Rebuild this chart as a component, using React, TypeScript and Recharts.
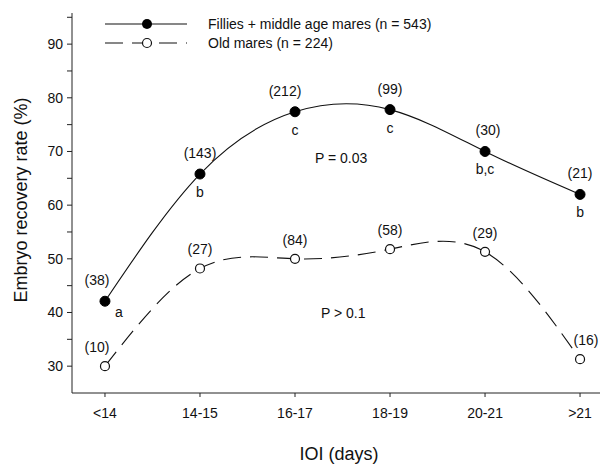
import React from 'react';
import { LineChart, Line, XAxis, YAxis, LabelList } from 'recharts';

// IOI classes and recovery rates
const categories = ['<14', '14-15', '16-17', '18-19', '20-21', '>21'];
const filliesRate = [42.1, 65.8, 77.4, 77.8, 70.0, 62.0];
const oldMaresRate = [30.0, 48.2, 50.0, 51.8, 51.3, 31.3];
const filliesN = [38, 143, 212, 99, 30, 21];
const oldMaresN = [10, 27, 84, 58, 29, 16];
const filliesLetters = ['a', 'b', 'c', 'c', 'b,c', 'b'];
const yTicks = [30, 35, 40, 45, 50, 55, 60, 65, 70, 75, 80, 85, 90, 95];
const xTicks = [0, 1, 2, 3, 4, 5];

// small horizontal nudges of the "(n)" labels, as in the original
const filliesNudge = [-8, 0, -10, 0, 3, 0];
const oldNudge = [-8, 0, 0, 0, 0, 6];

const FONT = '"Liberation Sans", Arial, Helvetica, sans-serif';

const data = categories.map((cat, i) => ({
  x: i,
  cat,
  fillies: filliesRate[i],
  old: oldMaresRate[i],
}));

const filliesLabel = (props: any) => {
  const { x, y, index } = props;
  const first = index === 0;
  return (
    <g fontFamily={FONT} fontSize={14} fill="#111">
      <text x={x + filliesNudge[index]} y={y - 21} textAnchor="middle" dominantBaseline="central">
        ({filliesN[index]})
      </text>
      <text
        x={first ? x + 10 : x}
        y={first ? y + 11 : y + 18}
        textAnchor={first ? 'start' : 'middle'}
        dominantBaseline="central"
      >
        {filliesLetters[index]}
      </text>
    </g>
  );
};

const oldLabel = (props: any) => {
  const { x, y, index } = props;
  return (
    <text
      x={x + oldNudge[index]}
      y={y - 19}
      textAnchor="middle"
      dominantBaseline="central"
      fontFamily={FONT}
      fontSize={14}
      fill="#111"
    >
      ({oldMaresN[index]})
    </text>
  );
};

export default function App() {
  return (
    <div style={{ width: 600, height: 466, background: '#fff' }}>
      <style>{'body{margin:0;}'}</style>
      <LineChart
        width={600}
        height={466}
        data={data}
        margin={{ top: 13, right: 0, bottom: 0, left: 0 }}
        style={{ fontFamily: FONT }}
      >
        <XAxis
          dataKey="x"
          type="number"
          domain={[-0.347, 5.21]}
          allowDataOverflow
          ticks={xTicks}
          tickFormatter={(v: number) => categories[v] ?? ''}
          height={73}
          stroke="#222"
          tickSize={4}
          tickMargin={11}
          tick={{ fontSize: 14, fill: '#111', fontFamily: FONT }}
        />
        <YAxis
          type="number"
          domain={[25, 95.8]}
          allowDataOverflow
          ticks={yTicks}
          tickFormatter={(v: number) => (v % 10 === 0 ? String(v) : '')}
          width={72}
          stroke="#222"
          tickSize={5}
          tickMargin={4}
          tick={{ fontSize: 14, fill: '#111', fontFamily: FONT }}
        />
        <Line
          type="natural"
          dataKey="old"
          stroke="#111"
          strokeWidth={1.1}
          strokeDasharray="18 9"
          dot={{ r: 4.5, fill: '#fff', stroke: '#111', strokeWidth: 1.2, strokeDasharray: '' }}
          isAnimationActive={false}
        >
          <LabelList dataKey="old" content={oldLabel} />
        </Line>
        <Line
          type="natural"
          dataKey="fillies"
          stroke="#111"
          strokeWidth={1.1}
          dot={{ r: 5, fill: '#000', stroke: '#000', strokeWidth: 1 }}
          isAnimationActive={false}
        >
          <LabelList dataKey="fillies" content={filliesLabel} />
        </Line>

        {/* legend */}
        <g fontFamily={FONT} fontSize={14} fill="#111">
          <line x1={105} x2={187} y1={24} y2={24} stroke="#111" strokeWidth={1.2} />
          <circle cx={147} cy={24} r={5} fill="#000" />
          <text x={208} y={24} dominantBaseline="central">Fillies + middle age mares (n = 543)</text>
          <line x1={105} x2={187} y1={43} y2={43} stroke="#111" strokeWidth={1.2} strokeDasharray="18 9" />
          <circle cx={147} cy={43} r={4.5} fill="#fff" stroke="#111" strokeWidth={1.2} />
          <text x={208} y={43} dominantBaseline="central">Old mares (n = 224)</text>
        </g>

        {/* significance notes */}
        <text x={315} y={158} fontFamily={FONT} fontSize={14} fill="#111" dominantBaseline="central">
          P = 0.03
        </text>
        <text x={321} y={313} fontFamily={FONT} fontSize={14} fill="#111" dominantBaseline="central">
          P &gt; 0.1
        </text>

        {/* axis titles */}
        <text x={339} y={454} fontFamily={FONT} fontSize={18} fill="#111" textAnchor="middle" dominantBaseline="central">
          IOI (days)
        </text>
        <text
          x={21}
          y={200}
          transform="rotate(-90 21 200)"
          fontFamily={FONT}
          fontSize={18}
          fill="#111"
          textAnchor="middle"
          dominantBaseline="central"
        >
          Embryo recovery rate (%)
        </text>
      </LineChart>
    </div>
  );
}
